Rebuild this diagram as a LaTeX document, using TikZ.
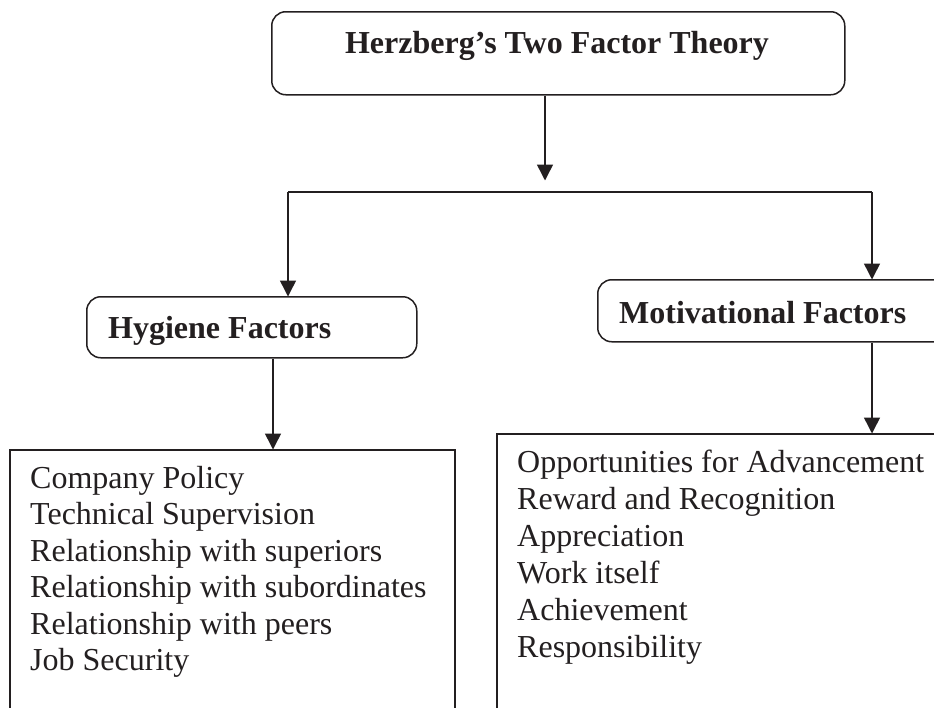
\documentclass[tikz,border=0pt]{standalone}
\usepackage{fontspec}
\setmainfont{Liberation Serif}
\usetikzlibrary{arrows.meta,calc}
\definecolor{ink}{HTML}{231F20}
\tikzset{
  box/.style={draw=ink, line width=1.5pt, inner sep=0pt, anchor=north west},
  rbox/.style={box, rounded corners=14pt},
  head/.style={inner sep=0pt, text=ink, font=\fontsize{32}{36.6}\selectfont\bfseries},
  item/.style={inner sep=0pt, text=ink, anchor=base west, font=\fontsize{32}{36.6}\selectfont},
  link/.style={draw=ink, line width=1.5pt},
  arr/.style={link, -{Triangle[width=16pt,length=16pt]}, shorten >=-0.5pt},
}
\begin{document}
\begin{tikzpicture}[x=1pt, y=-1pt]
  \useasboundingbox (0,0) rectangle (934,707);
  \clip (0,0) rectangle (934,707);

  % boxes
  \node[rbox, minimum width=573pt, minimum height=83pt] (title) at (271,11) {};
  \node[head, anchor=base] (titletext) at (557,53) {Herzberg’s Two Factor Theory};

  \node[rbox, minimum width=330pt, minimum height=61pt] (hyg) at (86,296) {};
  \node[head, anchor=base west] (hygtext) at (108,338) {Hygiene Factors};

  \node[rbox, minimum width=360pt, minimum height=62pt] (mot) at (597,279) {};
  \node[head, anchor=base west] (mottext) at (619,323) {Motivational Factors};

  \node[box, minimum width=445pt, minimum height=280pt] (hyglist) at (9,449) {};
  \node[box, minimum width=460pt, minimum height=290pt] (motlist) at (496,433) {};

  % list entries
  \foreach \t [count=\i] in {Company Policy, Technical Supervision,
      Relationship with superiors, Relationship with subordinates,
      Relationship with peers, Job Security}
    \node[item] (h\i) at (30,{488+36.5*(\i-1)}) {\t};
  \foreach \t [count=\i] in {Opportunities for Advancement, Reward and Recognition,
      Appreciation, Work itself, Achievement, Responsibility}
    \node[item] (m\i) at (517,{472+37*(\i-1)}) {\t};

  % connectors
  \coordinate (split) at (545,180);
  \coordinate (jl) at (288,192);
  \coordinate (jr) at (872,192);
  \coordinate (hx) at (273,0);

  \draw[arr] (title.south -| split) -- (split);
  \draw[link] (jl) -- (jr);
  \draw[arr] (jl) -- (jl |- hyg.north);
  \draw[arr] (jr) -- (jr |- mot.north);
  \draw[arr] (hyg.south -| hx) -- (hx |- hyglist.north);
  \draw[arr] (mot.south -| jr) -- (jr |- motlist.north);
\end{tikzpicture}
\end{document}
